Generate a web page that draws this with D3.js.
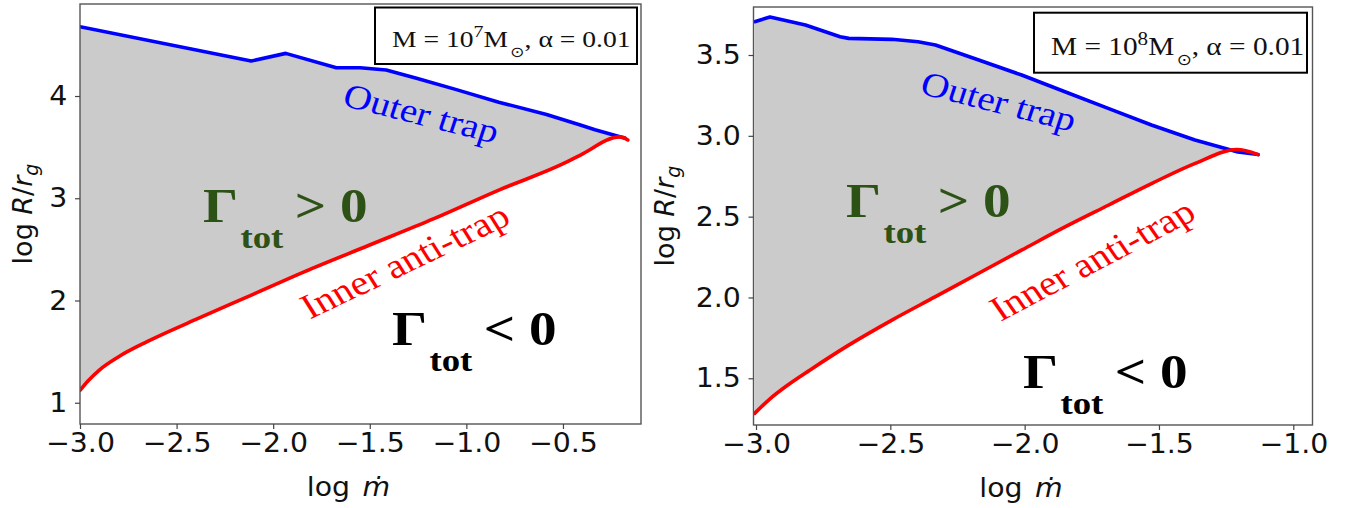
<!DOCTYPE html>
<html>
<head>
<meta charset="utf-8">
<script src="https://cdn.jsdelivr.net/npm/d3@7"></script>
<style>
  body { margin: 0; background: #fff; }
  svg { display: block; }
</style>
</head>
<body>
<svg id="fig" width="1355" height="508"></svg>
<script>
// Migration-trap boundaries in the (log mdot, log R/r_g) plane, alpha = 0.01.

// M = 1e7 Msun
const outer7X = [-3.0, -2.114, -1.935, -1.673, -1.55, -1.415, -1.258, -1.056, -0.832, -0.585, -0.41, -0.334, -0.196, -0.18];
const outer7Y = [4.678, 4.342, 4.417, 4.277, 4.277, 4.254, 4.173, 4.065, 3.94, 3.82, 3.716, 3.67, 3.597, 3.59];
const inner7X = [-3.0, -2.96, -2.90, -2.80, -2.65, -2.40, -2.11, -1.84, -1.504, -1.168, -0.832, -0.496, -0.412, -0.205, -0.164];
const inner7Y = [1.12, 1.21, 1.32, 1.45, 1.60, 1.815, 2.055, 2.28, 2.54, 2.80, 3.08, 3.34, 3.42, 3.60, 3.57];

// M = 1e8 Msun
const outer8X = [-3.005, -2.948, -2.816, -2.687, -2.655, -2.494, -2.397, -2.332, -2.171, -2.011, -1.85, -1.689, -1.528, -1.366, -1.206, -1.131];
const outer8Y = [3.706, 3.735, 3.686, 3.613, 3.603, 3.597, 3.582, 3.562, 3.469, 3.376, 3.273, 3.17, 3.067, 2.974, 2.90, 2.884];
const inner8X = [-3.005, -2.95, -2.88, -2.80, -2.655, -2.494, -2.332, -2.171, -2.01, -1.848, -1.687, -1.526, -1.365, -1.21, -1.131];
const inner8Y = [1.283, 1.37, 1.46, 1.55, 1.705, 1.86, 2.005, 2.15, 2.294, 2.438, 2.572, 2.706, 2.83, 2.915, 2.884];

// Axis ticks
const xTicks7 = [-3.0, -2.5, -2.0, -1.5, -1.0, -0.5];
const yTicks7 = [1, 2, 3, 4];
const xTicks8 = [-3.0, -2.5, -2.0, -1.5, -1.0];
const yTicks8 = [1.5, 2.0, 2.5, 3.0, 3.5];

// Panel texts
const massExp7 = "7";
const massExp8 = "8";
const alphaText = ", α = 0.01";
const outerLabel = "Outer trap";
const innerLabel = "Inner anti-trap";

const S = 1.15;          // horizontal stretch of the serif lettering
const AXS = 1.05;        // horizontal stretch of axis lettering
const GREEN = "#2d5216";
const svg = d3.select("#fig");

function visAngle(deg) {
  // rotation that appears as `deg` after the horizontal stretch
  return Math.atan(S * Math.tan(deg * Math.PI / 180)) * 180 / Math.PI;
}

function gammaLabel(g, px, py, sign, color) {
  const t = g.append("text")
    .attr("transform", `translate(${px},${py}) scale(${S},1)`)
    .attr("font-family", "Liberation Serif, serif")
    .attr("font-weight", "bold")
    .attr("fill", color);
  t.append("tspan").attr("font-size", 48).text("Γ");
  t.append("tspan").attr("font-size", 32).attr("dx", 2).attr("dy", 26).text("tot");
  t.append("tspan").attr("font-size", 48).attr("dx", 10).attr("dy", -26).text(sign + " 0");
}

function drawPanel(p) {
  const g = svg.append("g");
  const x = d3.scaleLinear().domain(p.xDomain).range([p.left, p.right]);
  const y = d3.scaleLinear().domain(p.yDomain).range([p.bottom, p.top]);

  const clipId = "clip-" + p.id;
  svg.append("clipPath").attr("id", clipId).append("rect")
    .attr("x", p.left).attr("y", p.top)
    .attr("width", p.right - p.left).attr("height", p.bottom - p.top);

  const outer = d3.zip(p.outerX, p.outerY);
  const inner = d3.zip(p.innerX, p.innerY);
  const line = d3.line().x(d => x(d[0])).y(d => y(d[1]));
  const smooth = d3.line().x(d => x(d[0])).y(d => y(d[1])).curve(d3.curveMonotoneX);

  const plot = g.append("g").attr("clip-path", `url(#${clipId})`);
  // region with positive total torque between the two traps
  const innerPath = smooth(inner.slice().reverse());
  plot.append("path")
    .attr("d", line(outer) + "L" + innerPath.slice(1) + "Z")
    .attr("fill", "#cbcbcb");
  plot.append("path").attr("d", line(outer))
    .attr("fill", "none").attr("stroke", "#0000ff").attr("stroke-width", 3.6)
    .attr("stroke-linejoin", "round").attr("stroke-linecap", "round");
  plot.append("path").attr("d", smooth(inner))
    .attr("fill", "none").attr("stroke", "#ff0000").attr("stroke-width", 3.6)
    .attr("stroke-linejoin", "round").attr("stroke-linecap", "round");

  // frame
  g.append("rect")
    .attr("x", p.left).attr("y", p.top)
    .attr("width", p.right - p.left).attr("height", p.bottom - p.top)
    .attr("fill", "none").attr("stroke", "#555").attr("stroke-width", 1.4);

  // axes
  const xa = g.append("g").attr("transform", `translate(0,${p.bottom})`)
    .call(d3.axisBottom(x).tickValues(p.xTicks).tickFormat(d3.format(".1f")).tickSize(5).tickPadding(4));
  xa.select(".domain").remove();
  xa.selectAll(".tick line").attr("stroke", "#444").attr("stroke-width", 1.2);
  xa.selectAll("text")
    .attr("font-family", "DejaVu Sans").attr("font-size", 27).attr("fill", "#111")
    .attr("transform", `scale(${AXS},1)`);

  const ya = g.append("g").attr("transform", `translate(${p.left},0)`)
    .call(d3.axisLeft(y).tickValues(p.yTicks).tickFormat(d3.format(p.yFormat)).tickSize(5).tickPadding(7));
  ya.select(".domain").remove();
  ya.selectAll(".tick line").attr("stroke", "#444").attr("stroke-width", 1.2);
  ya.selectAll("text")
    .attr("font-family", "DejaVu Sans").attr("font-size", 27).attr("fill", "#111")
    .attr("transform", `scale(${AXS},1)`);

  // axis titles
  const xl = g.append("text")
    .attr("transform", `translate(${(p.left + p.right) / 2 - 12},${p.bottom + 72}) scale(${AXS},1)`)
    .attr("text-anchor", "middle")
    .attr("font-family", "DejaVu Sans").attr("font-size", 27).attr("fill", "#111");
  xl.append("tspan").text("log");
  xl.append("tspan").attr("dx", 12).attr("font-style", "italic").text("ṁ");

  const yl = g.append("text")
    .attr("transform", `translate(${p.yLabelX},${(p.top + p.bottom) / 2}) rotate(-90)`)
    .attr("text-anchor", "middle")
    .attr("font-family", "DejaVu Sans").attr("font-size", 27).attr("fill", "#111");
  yl.append("tspan").text("log ");
  yl.append("tspan").attr("font-style", "italic").text("R");
  yl.append("tspan").text("/");
  yl.append("tspan").attr("font-style", "italic").text("r");
  yl.append("tspan").attr("font-style", "italic").attr("font-size", 19).attr("dy", 6).text("g");

  // parameter box
  g.append("rect")
    .attr("x", p.box[0]).attr("y", p.box[1]).attr("width", p.box[2]).attr("height", p.box[3])
    .attr("fill", "#fff").attr("stroke", "#000").attr("stroke-width", 2);
  const bt = g.append("text")
    .attr("transform", `translate(${p.boxText[0]},${p.boxText[1]}) scale(${S},1)`)
    .attr("font-family", "Liberation Serif, serif").attr("font-size", p.boxFont).attr("fill", "#111");
  bt.append("tspan").text("M = 10");
  bt.append("tspan").attr("font-size", p.boxFont * 0.72).attr("dy", -10).text(p.massExp);
  bt.append("tspan").attr("dy", 10).text("M");
  bt.append("tspan").attr("font-family", "DejaVu Sans").attr("font-size", p.boxFont * 0.62).attr("dx", 2).attr("dy", 10).text("⊙");
  bt.append("tspan").attr("dy", -10).text(alphaText);

  // curve labels
  g.append("text")
    .attr("transform", `translate(${x(p.outerPos[0])},${y(p.outerPos[1])}) scale(${S},1) rotate(${visAngle(p.outerAngle)})`)
    .attr("text-anchor", "middle").attr("dy", "0.35em")
    .attr("font-family", "Liberation Serif, serif").attr("font-size", p.outerFont)
    .attr("fill", "#0000ff").text(outerLabel);
  g.append("text")
    .attr("transform", `translate(${x(p.innerPos[0])},${y(p.innerPos[1])}) scale(${S},1) rotate(${visAngle(p.innerAngle)})`)
    .attr("text-anchor", "middle").attr("dy", "0.35em")
    .attr("font-family", "Liberation Serif, serif").attr("font-size", p.innerFont)
    .attr("fill", "#ff0000").text(innerLabel);

  gammaLabel(g, x(p.posGamma[0]), y(p.posGamma[1]), ">", GREEN);
  gammaLabel(g, x(p.negGamma[0]), y(p.negGamma[1]), "<", "#000");
}

drawPanel({
  id: "m7",
  left: 80, right: 641, top: 4, bottom: 424,
  xDomain: [-3.0, -0.096], yDomain: [0.792, 4.90],
  xTicks: xTicks7, yTicks: yTicks7, yFormat: "d",
  outerX: outer7X, outerY: outer7Y, innerX: inner7X, innerY: inner7Y,
  yLabelX: 32,
  box: [375, 7.5, 262, 56.5], boxText: [392, 47], boxFont: 24, massExp: massExp7,
  outerPos: [-1.232, 3.835], outerAngle: 14, outerFont: 34,
  innerPos: [-1.320, 2.391], innerAngle: -25.5, innerFont: 35,
  posGamma: [-2.363, 2.768], negGamma: [-1.385, 1.565]
});

drawPanel({
  id: "m8",
  left: 753.5, right: 1312.5, top: 7, bottom: 425,
  xDomain: [-3.0093, -0.9285], yDomain: [1.211, 3.797],
  xTicks: xTicks8, yTicks: yTicks8, yFormat: ".1f",
  outerX: outer8X, outerY: outer8Y, innerX: inner8X, innerY: inner8Y,
  yLabelX: 674,
  box: [1034, 12.7, 273, 60], boxText: [1051, 55], boxFont: 25.5, massExp: massExp8,
  outerPos: [-2.0955, 3.2154], outerAngle: 14, outerFont: 34,
  innerPos: [-1.749, 2.235], innerAngle: -27.7, innerFont: 35,
  posGamma: [-2.665, 2.498], negGamma: [-2.006, 1.440]
});
</script>
</body>
</html>
